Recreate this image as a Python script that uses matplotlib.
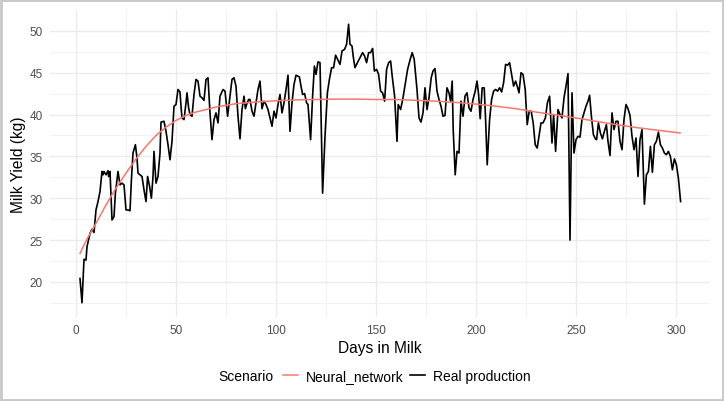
import numpy as np
import matplotlib
matplotlib.use('Agg')
import matplotlib.pyplot as plt
from matplotlib.patches import Rectangle

# Real production (day, kg)
real_days = [2, 3, 4, 5, 5.5, 7, 8, 9, 10, 11, 12, 13, 13.5, 14, 15, 16, 16.3, 17, 18, 19,
             19.7, 21, 22, 23, 24, 25, 26, 27, 27.7, 28.5, 29.7, 30.5, 31, 32, 33, 34, 35, 35.8, 36.8, 37.7,
             38.5, 39, 40, 41, 42, 42.5, 44, 45, 46, 47, 48, 49, 50, 51, 52, 52.5, 53, 54, 55, 55.5,
             56.3, 57, 58, 59, 60, 61, 62, 63, 64, 65, 66, 67, 68, 69, 70, 71, 72, 73.5, 74.5, 75.8,
             77, 78, 79, 80, 81, 82, 83, 84, 84.7, 85.3, 86.3, 87, 88, 89, 90, 91, 92, 93, 94, 95,
             96, 97, 98, 99, 100, 101, 102, 103, 104, 105, 106, 107, 108, 109, 110, 111.7, 112.5, 113.3, 114.3, 115.3,
             116, 117.3, 118.3, 119.2, 120, 121, 122, 123.3, 124.5, 125.7, 126.7, 127.8, 128.8, 129.8, 130.8, 132, 133, 134.3, 135.3, 136.3,
             137, 138, 138.7, 139.5, 140.7, 142, 143.3, 144.3, 145.3, 146.3, 147.3, 148.3, 149.2, 150.3, 151.3, 152.3, 153.3, 154.3, 155.3, 156.3,
             157.3, 158.1, 159.3, 160.5, 161.1, 162.3, 163.5, 164.6, 165.8, 167.1, 168.1, 169.1, 170.5, 171.5, 172.5, 173.5, 174.5, 175.5, 176.5, 177.6,
             178.5, 179.5, 180.5, 181.5, 182.5, 183.5, 184.5, 185.5, 186.5, 187.3, 188.1, 188.6, 189.6, 190.5, 191.5, 192.5, 193.5, 194.5, 195.5, 196.5,
             197.5, 198.5, 199.6, 200.5, 201.3, 202.1, 203.1, 204.1, 204.8, 205.6, 206.8, 207.8, 208.8, 209.8, 210.8, 211.8, 212.8, 213.8, 214.8, 215.8,
             216.8, 217.8, 218.8, 219.8, 220.6, 221.5, 222.5, 223.5, 224.6, 225.6, 226.6, 227.6, 228.6, 229.6, 230.6, 231.6, 232.5, 233.5, 234.7, 235.7,
             236.8, 238, 238.8, 239.8, 241, 242, 243, 244, 245, 246, 247, 248, 249, 250, 251, 252, 253, 254, 255, 256,
             256.8, 257.7, 258.7, 259.7, 260.3, 261.2, 262.2, 263.2, 264.2, 265.2, 266, 267, 268, 269, 270, 271, 272, 273, 274, 275,
             276, 277, 278, 279, 280, 281, 282, 283, 284.2, 285.2, 286.2, 287.2, 288.2, 289.2, 290.2, 291.2, 292.2, 293.2, 294.2, 295.2,
             296.2, 297.2, 298.2, 299.2, 300.2, 301.2, 302.3]
real_yield = [20.4, 17.5, 22.7, 22.6, 24.2, 25.8, 26.3, 25.9, 28.6, 29.6, 30.8, 33.2, 32.8, 33.2, 32.8, 33.3, 32.6, 33.2, 27.4, 27.8,
              30.6, 33.2, 31.6, 31.8, 31.6, 28.6, 28.6, 28.5, 32.2, 35.4, 36.4, 34.8, 33.0, 32.8, 32.6, 31.0, 29.6, 32.6, 31.4, 30.0,
              32.6, 35.6, 31.8, 32.6, 35.4, 39.1, 39.2, 38.0, 36.4, 34.6, 36.8, 41.0, 41.2, 43.0, 42.7, 41.0, 39.6, 39.4, 41.4, 42.6,
              40.8, 40.0, 39.8, 42.4, 44.2, 44.0, 42.2, 42.0, 41.7, 44.2, 44.4, 40.2, 37.0, 39.4, 40.2, 39.0, 42.2, 43.0, 42.8, 39.8,
              42.2, 44.2, 44.4, 43.4, 39.8, 37.1, 40.6, 42.2, 40.7, 41.2, 41.8, 41.8, 40.4, 39.8, 41.4, 43.0, 44.0, 40.7, 41.6, 41.2,
              40.6, 39.6, 38.6, 40.4, 39.6, 41.2, 42.4, 40.2, 41.4, 43.0, 44.7, 38.0, 41.4, 43.6, 44.7, 44.5, 43.4, 42.4, 42.5, 41.4,
              41.2, 37.0, 42.2, 45.8, 44.8, 46.3, 46.2, 30.6, 37.4, 42.6, 44.2, 45.6, 45.6, 47.1, 46.6, 46.0, 47.6, 47.8, 48.4, 50.8,
              48.4, 48.2, 46.8, 45.6, 46.2, 46.8, 47.4, 47.0, 46.2, 47.4, 47.4, 47.9, 45.2, 45.4, 44.8, 42.8, 42.6, 41.6, 45.4, 46.2,
              46.4, 44.6, 42.2, 36.8, 41.2, 40.6, 42.0, 43.6, 45.4, 46.6, 47.4, 46.6, 43.0, 39.6, 39.1, 40.2, 43.2, 40.6, 42.0, 44.4,
              45.2, 45.5, 42.8, 41.8, 41.0, 39.8, 39.9, 43.2, 42.6, 41.6, 44.0, 38.2, 32.8, 35.6, 35.4, 41.6, 39.8, 42.2, 42.6, 40.8,
              40.4, 41.8, 42.8, 44.0, 42.4, 39.5, 43.2, 43.2, 39.4, 34.0, 39.4, 41.8, 42.8, 43.0, 42.8, 43.2, 42.7, 43.8, 46.0, 45.9,
              46.2, 44.8, 43.4, 44.0, 43.4, 42.6, 45.0, 44.8, 43.0, 38.8, 40.4, 40.4, 39.0, 36.4, 36.0, 37.6, 39.0, 39.0, 39.6, 41.4,
              42.2, 36.6, 40.0, 35.6, 40.6, 40.0, 39.6, 42.0, 43.4, 44.9, 25.0, 42.6, 35.4, 37.0, 37.4, 37.3, 39.4, 40.2, 41.0, 41.6,
              42.3, 39.8, 37.6, 37.1, 37.0, 39.0, 37.8, 37.1, 38.0, 38.8, 36.8, 35.1, 40.2, 38.2, 39.2, 39.2, 36.8, 35.8, 39.4, 41.2,
              40.7, 39.9, 37.4, 35.8, 37.2, 32.6, 37.0, 38.2, 29.3, 32.8, 33.2, 36.2, 33.1, 36.4, 36.8, 37.9, 36.4, 36.0, 35.4, 35.2,
              35.6, 35.0, 33.4, 34.7, 34.0, 32.4, 29.6]

# Neural network prediction
nn_days = [2, 5, 10, 15, 20, 25, 30, 35, 40, 45, 50, 55, 60, 70, 80, 90, 100, 110, 120, 130,
           140, 150, 160, 170, 180, 190, 200, 210, 220, 230, 240, 250, 260, 270, 280, 290, 302]
nn_yield = [23.4, 24.9, 27.0, 29.2, 31.2, 33.0, 34.7, 36.2, 37.5, 38.5, 39.3, 39.9, 40.3, 40.9, 41.3, 41.5, 41.65, 41.75, 41.8, 41.85,
            41.85, 41.8, 41.8, 41.7, 41.6, 41.45, 41.25, 41.0, 40.7, 40.3, 39.95, 39.6, 39.2, 38.8, 38.45, 38.15, 37.8]

x_ticks = [0, 50, 100, 150, 200, 250, 300]
y_ticks = [20, 25, 30, 35, 40, 45, 50]

plt.rcParams['font.family'] = ['Liberation Sans', 'DejaVu Sans']

fig = plt.figure(figsize=(7.24, 4.02), dpi=100)
ax = fig.add_axes([50 / 724, 1 - 318 / 402, 660 / 724, 307 / 402])

ax.plot(nn_days, nn_yield, color='#F8766D', lw=1.1, label='Neural_network', zorder=3)
ax.plot(real_days, real_yield, color='black', lw=1.2, label='Real production', zorder=2)

ax.set_xlim(-13, 317)
ax.set_ylim(15.8, 52.5)
ax.set_xticks(x_ticks)
ax.set_yticks(y_ticks)
ax.set_xticks([25, 75, 125, 175, 225, 275], minor=True)
ax.set_yticks([17.5, 22.5, 27.5, 32.5, 37.5, 42.5, 47.5], minor=True)
ax.grid(which='major', color='#ebebeb', lw=1.0)
ax.grid(which='minor', color='#f2f2f2', lw=0.8)
ax.set_axisbelow(True)
for s in ax.spines.values():
    s.set_visible(False)
ax.tick_params(which='both', length=0, labelsize=8.5, labelcolor='#4d4d4d', pad=5)

ax.set_xlabel('Days in Milk', fontsize=11.2, labelpad=3)
ax.set_ylabel('Milk Yield (kg)', fontsize=11.2, labelpad=3)

fig.text(218 / 724, 1 - 377 / 402, 'Scenario', fontsize=10, va='center', ha='left')
fig.legend(loc='center left', bbox_to_anchor=(277 / 724, 1 - 377 / 402), ncol=2, frameon=False,
           fontsize=10, handlelength=1.1, handletextpad=0.55, columnspacing=0.5, borderaxespad=0)

# light grey frame around the whole image
fig.patches.append(Rectangle((0.002, 0.003), 0.996, 0.994, transform=fig.transFigure,
                             fill=False, edgecolor='#c8c8c8', lw=2))

fig.savefig('out.png', dpi=100)
